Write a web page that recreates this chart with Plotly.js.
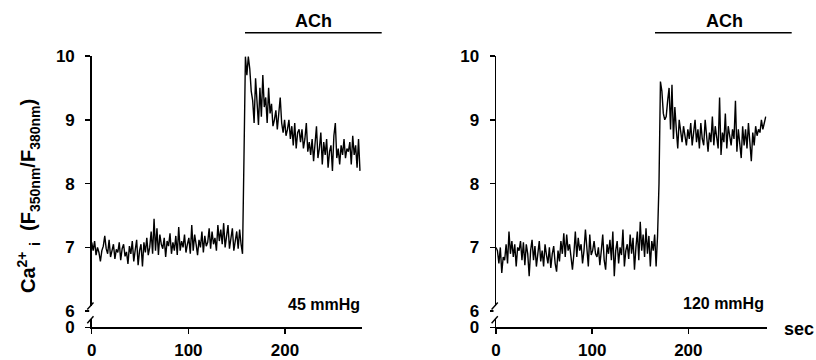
<!DOCTYPE html>
<html>
<head>
<meta charset="utf-8">
<script src="https://cdn.plot.ly/plotly-3.0.1.min.js"></script>
<style>html,body{margin:0;padding:0;background:#fff;}#chart{width:816px;height:360px;}</style>
</head>
<body>
<div id="chart"></div>
<script>
// Time step (s) between samples
var sampleStep = 1.5;

// Left panel: 45 mmHg, Ca2+i ratio (F350/F380)
var ratio45 = [
  7.08, 6.95, 7.10, 6.88, 7.00, 6.92, 6.78, 6.95, 7.02, 7.18,
  6.98, 6.90, 7.12, 6.85, 6.95, 7.05, 6.82, 6.97, 6.92, 7.08,
  6.80, 6.98, 7.05, 6.86, 6.93, 6.74, 7.02, 6.90, 7.10, 6.78,
  6.96, 7.12, 6.72, 6.95, 7.05, 6.70, 7.08, 6.92, 7.15, 6.88,
  7.00, 7.25, 6.90, 7.45, 6.95, 7.30, 6.88, 7.20, 7.05, 6.98,
  7.15, 6.85, 7.10, 7.02, 7.22, 6.90, 7.08, 6.95, 7.18, 6.88,
  7.32, 6.95, 7.10, 7.00, 7.20, 6.92, 7.05, 7.15, 6.90, 7.35,
  6.95, 7.20, 7.05, 6.88, 7.12, 7.00, 7.25, 6.92, 7.18, 7.02,
  7.08, 7.30, 6.98, 7.25, 7.05, 7.15, 6.95, 7.35, 7.10, 7.28,
  7.05, 7.38, 7.00, 7.22, 7.35, 6.98, 7.15, 7.30, 6.95, 7.12,
  7.25, 6.98, 7.28, 7.05, 6.90, 8.40,
  9.99, 9.70, 9.99, 9.80, 9.45, 9.30, 8.95, 9.65, 9.20, 8.92, 9.50, 9.05,
  9.70, 9.20, 9.35, 8.95, 9.50, 9.10, 9.25, 8.90, 9.00, 9.15, 8.85, 9.05, 9.35,
  8.95, 8.80, 9.00, 8.75, 8.85, 9.00, 8.70, 8.90, 8.60, 8.95, 8.55, 8.80, 8.85, 8.65,
  8.85, 8.55, 8.70, 8.95, 8.50, 8.65, 8.45, 8.70, 8.35, 8.60, 8.90, 8.40, 8.55,
  8.80, 8.30, 8.65, 8.45, 8.70, 8.25, 8.50, 8.60, 8.20, 8.75, 8.95, 8.40, 8.55,
  8.30, 8.60, 8.45, 8.70, 8.40, 8.55, 8.50, 8.65, 8.30, 8.75, 8.45, 8.60, 8.25, 8.70, 8.20
];

// Right panel: 120 mmHg
var ratio120 = [
  7.00, 6.95, 6.75, 7.00, 6.60, 6.85, 6.80, 7.05, 6.75, 7.25,
  6.90, 7.10, 6.85, 7.05, 6.70, 7.00, 6.95, 7.10, 6.80, 7.08,
  6.72, 7.05, 6.90, 6.55, 6.95, 7.12, 6.80, 7.02, 6.70, 6.92,
  7.10, 6.78, 6.95, 6.70, 7.05, 6.88, 6.75, 7.00, 6.68, 6.90,
  7.02, 6.75, 6.62, 6.95, 6.78, 7.10, 6.90, 7.22, 6.85, 7.20,
  6.95, 7.05, 6.80, 6.65, 6.90, 7.25, 6.85, 7.15, 6.95, 7.05,
  6.75, 6.95, 7.28, 6.90, 6.70, 7.20, 6.88, 6.95, 7.10, 6.90,
  6.85, 7.00, 6.72, 6.95, 7.20, 6.80, 6.65, 7.05, 6.90, 7.12,
  6.80, 7.25, 6.55, 6.95, 7.10, 6.75, 7.00, 6.88, 7.28, 6.70,
  6.95, 7.05, 6.82, 7.20, 6.90, 7.15, 6.65, 7.00, 7.25, 6.80,
  7.40, 6.95, 7.20, 6.85, 7.30, 6.90, 7.18, 6.70, 7.10, 6.95,
  7.20, 6.70, 7.18, 8.00,
  9.60,
  9.45, 9.10, 9.00, 9.05, 9.30, 9.50, 8.85, 9.55, 8.70, 9.20,
  8.85, 8.55, 9.00, 8.80, 8.65, 8.90, 8.75, 8.60, 8.85, 8.70,
  8.95, 8.60, 8.80, 9.00, 8.65, 8.85, 8.55, 8.95, 8.70, 8.60,
  9.00, 8.75, 8.50, 8.80, 8.65, 9.05, 8.60, 8.90, 8.70, 8.55,
  9.35, 8.45, 8.80, 8.65, 9.10, 8.55, 8.90, 8.75, 8.60, 8.85,
  8.70, 9.30, 8.50, 8.85, 8.65, 8.40, 8.90, 8.60, 8.85, 8.55,
  8.95, 8.70, 8.35, 8.80, 8.60, 8.90, 8.75, 8.85, 8.80, 9.00,
  8.85, 8.95, 9.05
];

var xTickVals = [0, 100, 200];
var xTickText = ['0', '100', '200'];
var yTickVals = [5.748, 6, 7, 8, 9, 10];
var yTickText = ['0', '6', '7', '8', '9', '10'];
var panelLabels = ['45 mmHg', '120 mmHg'];
var stimulusLabel = 'ACh';

var W = 816, H = 360;
function px(x) { return x / W; }
function py(y) { return 1 - y / H; }

var FONT = 'Liberation Sans, Arial, Helvetica, sans-serif';

var traces = [
  {type: 'scatter', mode: 'lines', y: ratio45, x0: 0, dx: sampleStep,
   xaxis: 'x', yaxis: 'y', line: {color: '#000', width: 1.4}, hoverinfo: 'skip', showlegend: false},
  {type: 'scatter', mode: 'lines', y: ratio120, x0: 0, dx: sampleStep,
   xaxis: 'x2', yaxis: 'y2', line: {color: '#000', width: 1.4}, hoverinfo: 'skip', showlegend: false}
];

function xAxis(domain, range, anchor) {
  return {
    domain: domain, range: range, anchor: anchor,
    showline: true, linecolor: '#000', linewidth: 1.5,
    ticks: 'outside', ticklen: 5, tickwidth: 1.5, tickcolor: '#000',
    tickvals: xTickVals, ticktext: xTickText,
    tickfont: {family: FONT, size: 17, color: '#000', weight: 'bold'},
    ticklabelstandoff: 2,
    showgrid: false, zeroline: false, automargin: false, fixedrange: true
  };
}
function yAxis(anchor) {
  return {
    domain: [32.7 / H, 304 / H], range: [5.748, 10.0], anchor: anchor,
    showline: true, linecolor: '#000', linewidth: 1.5,
    ticks: 'outside', ticklen: 5, tickwidth: 1.5, tickcolor: '#000',
    tickvals: yTickVals, ticktext: yTickText,
    tickfont: {family: FONT, size: 17, color: '#000', weight: 'bold'},
    ticklabelstandoff: 7,
    showgrid: false, zeroline: false, automargin: false, fixedrange: true
  };
}

var shapes = [];
var axisXs = [91.7, 496];
axisXs.forEach(function (ax) {
  // gap in axis line for break
  shapes.push({type: 'rect', xref: 'paper', yref: 'paper', layer: 'above',
    x0: px(ax - 2.5), x1: px(ax + 2.5), y0: py(319), y1: py(306),
    fillcolor: '#fff', line: {width: 0}});
  // slashes
  shapes.push({type: 'line', xref: 'paper', yref: 'paper', layer: 'above',
    x0: px(ax - 4.4), y0: py(309.5), x1: px(ax + 1.8), y1: py(302.5),
    line: {color: '#000', width: 1.4}});
  shapes.push({type: 'line', xref: 'paper', yref: 'paper', layer: 'above',
    x0: px(ax - 4.4), y0: py(323.3), x1: px(ax + 1.8), y1: py(316.3),
    line: {color: '#000', width: 1.4}});
});
// ACh application bars
shapes.push({type: 'line', xref: 'paper', yref: 'paper', x0: px(245), x1: px(381.7), y0: py(32.7), y1: py(32.7), line: {color: '#000', width: 1.6}});
shapes.push({type: 'line', xref: 'paper', yref: 'paper', x0: px(655), x1: px(791.7), y0: py(32.7), y1: py(32.7), line: {color: '#000', width: 1.6}});

var annFont = function (s) { return {family: FONT, size: s, color: '#000', weight: 'bold'}; };
var annotations = [
  {xref: 'paper', yref: 'paper', x: px(313), y: py(21), text: stimulusLabel, showarrow: false,
   xanchor: 'center', yanchor: 'middle', font: annFont(18)},
  {xref: 'paper', yref: 'paper', x: px(724), y: py(21), text: stimulusLabel, showarrow: false,
   xanchor: 'center', yanchor: 'middle', font: annFont(18)},
  {xref: 'paper', yref: 'paper', x: px(362), y: py(304), text: panelLabels[0], showarrow: false,
   xanchor: 'right', yanchor: 'middle', font: annFont(16)},
  {xref: 'paper', yref: 'paper', x: px(766), y: py(303), text: panelLabels[1], showarrow: false,
   xanchor: 'right', yanchor: 'middle', font: annFont(16)},
  {xref: 'paper', yref: 'paper', x: px(782), y: py(329), text: 'sec', showarrow: false,
   xanchor: 'left', yanchor: 'middle', font: annFont(18)},
  {xref: 'paper', yref: 'paper', x: px(29), y: py(196), textangle: -90,
   text: 'Ca<sup>2+</sup> <sub>i</sub>  (F<sub>350nm</sub>/F<sub>380nm</sub>)', showarrow: false,
   xanchor: 'center', yanchor: 'middle', font: annFont(20)}
];

var layout = {
  width: W, height: H,
  margin: {l: 0, r: 0, t: 0, b: 0, pad: 0},
  paper_bgcolor: '#fff', plot_bgcolor: '#fff',
  showlegend: false,
  xaxis: xAxis([91.7 / W, 362.4 / W], [0, 280], 'y'),
  yaxis: yAxis('x'),
  xaxis2: xAxis([496 / W, 766.7 / W], [0, 281.5], 'y2'),
  yaxis2: yAxis('x2'),
  shapes: shapes,
  annotations: annotations
};

Plotly.newPlot('chart', traces, layout, {staticPlot: true, displayModeBar: false});
</script>
</body>
</html>
